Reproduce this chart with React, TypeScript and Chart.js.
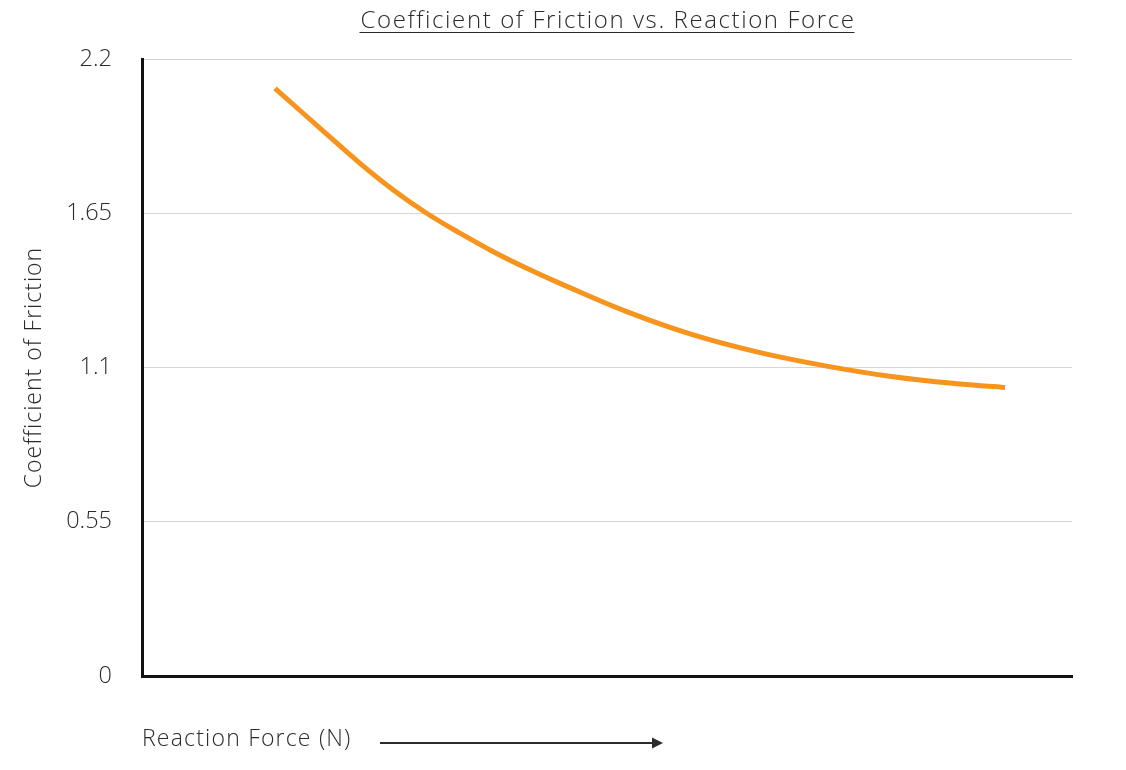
import React, { useEffect, useRef } from 'react';
import { Chart, registerables } from 'chart.js';

Chart.register(...registerables);

// Reaction force (relative position along the arrow axis) and friction coefficient
const forceValues = [14.3, 19.86, 23.44, 27.02, 30.61, 34.19, 37.77, 41.37, 44.95, 52.12, 59.28, 66.45, 73.62, 80.78, 87.96, 92.8];
const frictionValues = [2.0955, 1.932, 1.828, 1.733, 1.65, 1.579, 1.513, 1.454, 1.4, 1.299, 1.216, 1.153, 1.105, 1.067, 1.041, 1.029];
const yTickValues = [0, 0.55, 1.1, 1.65, 2.2];
const yTickLabels = ['0', '0.55', '1.1', '1.65', '2.2'];

const chartTitle = 'Coefficient of Friction vs. Reaction Force';
const xAxisTitle = 'Reaction Force (N)';
const yAxisTitle = 'Coefficient of Friction';

const FONT = "'Open Sans', Lato, sans-serif";
const TEXT = '#2b2b2b';

// draws the underlined title, the y title and the x label with its arrow
const decorPlugin = {
  id: 'decor',
  afterDraw(chart: any) {
    const { ctx, chartArea } = chart;
    ctx.save();
    ctx.fillStyle = TEXT;
    ctx.strokeStyle = TEXT;

    // title, centred on the plot area
    ctx.font = `300 24px ${FONT}`;
    ctx.letterSpacing = '1.6px';
    ctx.textAlign = 'center';
    ctx.textBaseline = 'alphabetic';
    const cx = (chartArea.left + chartArea.right) / 2;
    ctx.fillText(chartTitle, cx + 1, 28);
    const tw = ctx.measureText(chartTitle).width;
    ctx.lineWidth = 1;
    ctx.beginPath();
    ctx.moveTo(cx - tw / 2, 32.5);
    ctx.lineTo(cx + tw / 2, 32.5);
    ctx.stroke();

    // y title, rotated
    ctx.save();
    ctx.translate(34, (chartArea.top + chartArea.bottom) / 2);
    ctx.rotate(-Math.PI / 2);
    ctx.font = `300 23px ${FONT}`;
    ctx.letterSpacing = '1px';
    ctx.textAlign = 'center';
    ctx.textBaseline = 'middle';
    ctx.fillText(yAxisTitle, 0, 0);
    ctx.restore();

    // x label + arrow
    ctx.font = `300 23px ${FONT}`;
    ctx.letterSpacing = '1.2px';
    ctx.textAlign = 'left';
    ctx.textBaseline = 'middle';
    ctx.fillText(xAxisTitle, chartArea.left, 739);
    const ax0 = chartArea.left + 238;
    const ax1 = chartArea.left + 521;
    ctx.lineWidth = 2;
    ctx.beginPath();
    ctx.moveTo(ax0, 743);
    ctx.lineTo(ax1 - 10, 743);
    ctx.stroke();
    ctx.beginPath();
    ctx.moveTo(ax1, 743);
    ctx.lineTo(ax1 - 11, 737.5);
    ctx.lineTo(ax1 - 11, 748.5);
    ctx.closePath();
    ctx.fill();
    ctx.restore();
  },
};

const App = (): JSX.Element => {
  const canvasRef = useRef<HTMLCanvasElement>(null);
  const chartRef = useRef<Chart | null>(null);

  useEffect(() => {
    document.body.style.margin = '0';
    if (!canvasRef.current) return;
    if (chartRef.current) {
      chartRef.current.destroy();
      chartRef.current = null;
    }

    chartRef.current = new Chart(canvasRef.current, {
      type: 'line',
      data: {
        datasets: [
          {
            label: yAxisTitle,
            data: forceValues.map((x, i) => ({ x, y: frictionValues[i] })),
            borderColor: '#F7941D',
            borderWidth: 5,
            pointRadius: 0,
            borderCapStyle: 'butt',
            tension: 0.4,
            fill: false,
          },
        ],
      },
      options: {
        animation: false,
        responsive: true,
        maintainAspectRatio: false,
        layout: { padding: { top: 59, right: 54, left: 0, bottom: 0 } },
        plugins: {
          legend: { display: false },
          title: { display: false },
          tooltip: { enabled: false },
        },
        scales: {
          x: {
            type: 'linear',
            min: 0,
            max: 100,
            grid: { display: false, drawTicks: false },
            border: { display: true, color: '#111', width: 3 },
            ticks: { display: false },
            afterFit: (scale: any) => {
              scale.height = 94;
            },
          },
          y: {
            min: 0,
            max: 2.2,
            afterBuildTicks: (scale: any) => {
              scale.ticks = yTickValues.map((v) => ({ value: v }));
            },
            afterFit: (scale: any) => {
              scale.width = 142;
            },
            grid: {
              color: (c: any) => (c.tick && c.tick.value === 0 ? 'rgba(0,0,0,0)' : '#d6d6d6'),
              lineWidth: 1,
              drawTicks: false,
            },
            border: { display: true, color: '#111', width: 3 },
            ticks: {
              padding: 30,
              color: TEXT,
              font: { family: FONT, size: 23.5, weight: '300' },
              callback: (value: any) => {
                const i = yTickValues.indexOf(Number(value));
                return i >= 0 ? yTickLabels[i] : '';
              },
            },
            title: { display: false },
          },
        },
      },
      plugins: [decorPlugin],
    } as any);

    return () => {
      if (chartRef.current) {
        chartRef.current.destroy();
        chartRef.current = null;
      }
    };
  }, []);

  return (
    <div style={{ width: '1126px', height: '770px', position: 'relative', background: '#fff' }}>
      <canvas ref={canvasRef} role="img" aria-label={chartTitle}></canvas>
    </div>
  );
};

export default App;
